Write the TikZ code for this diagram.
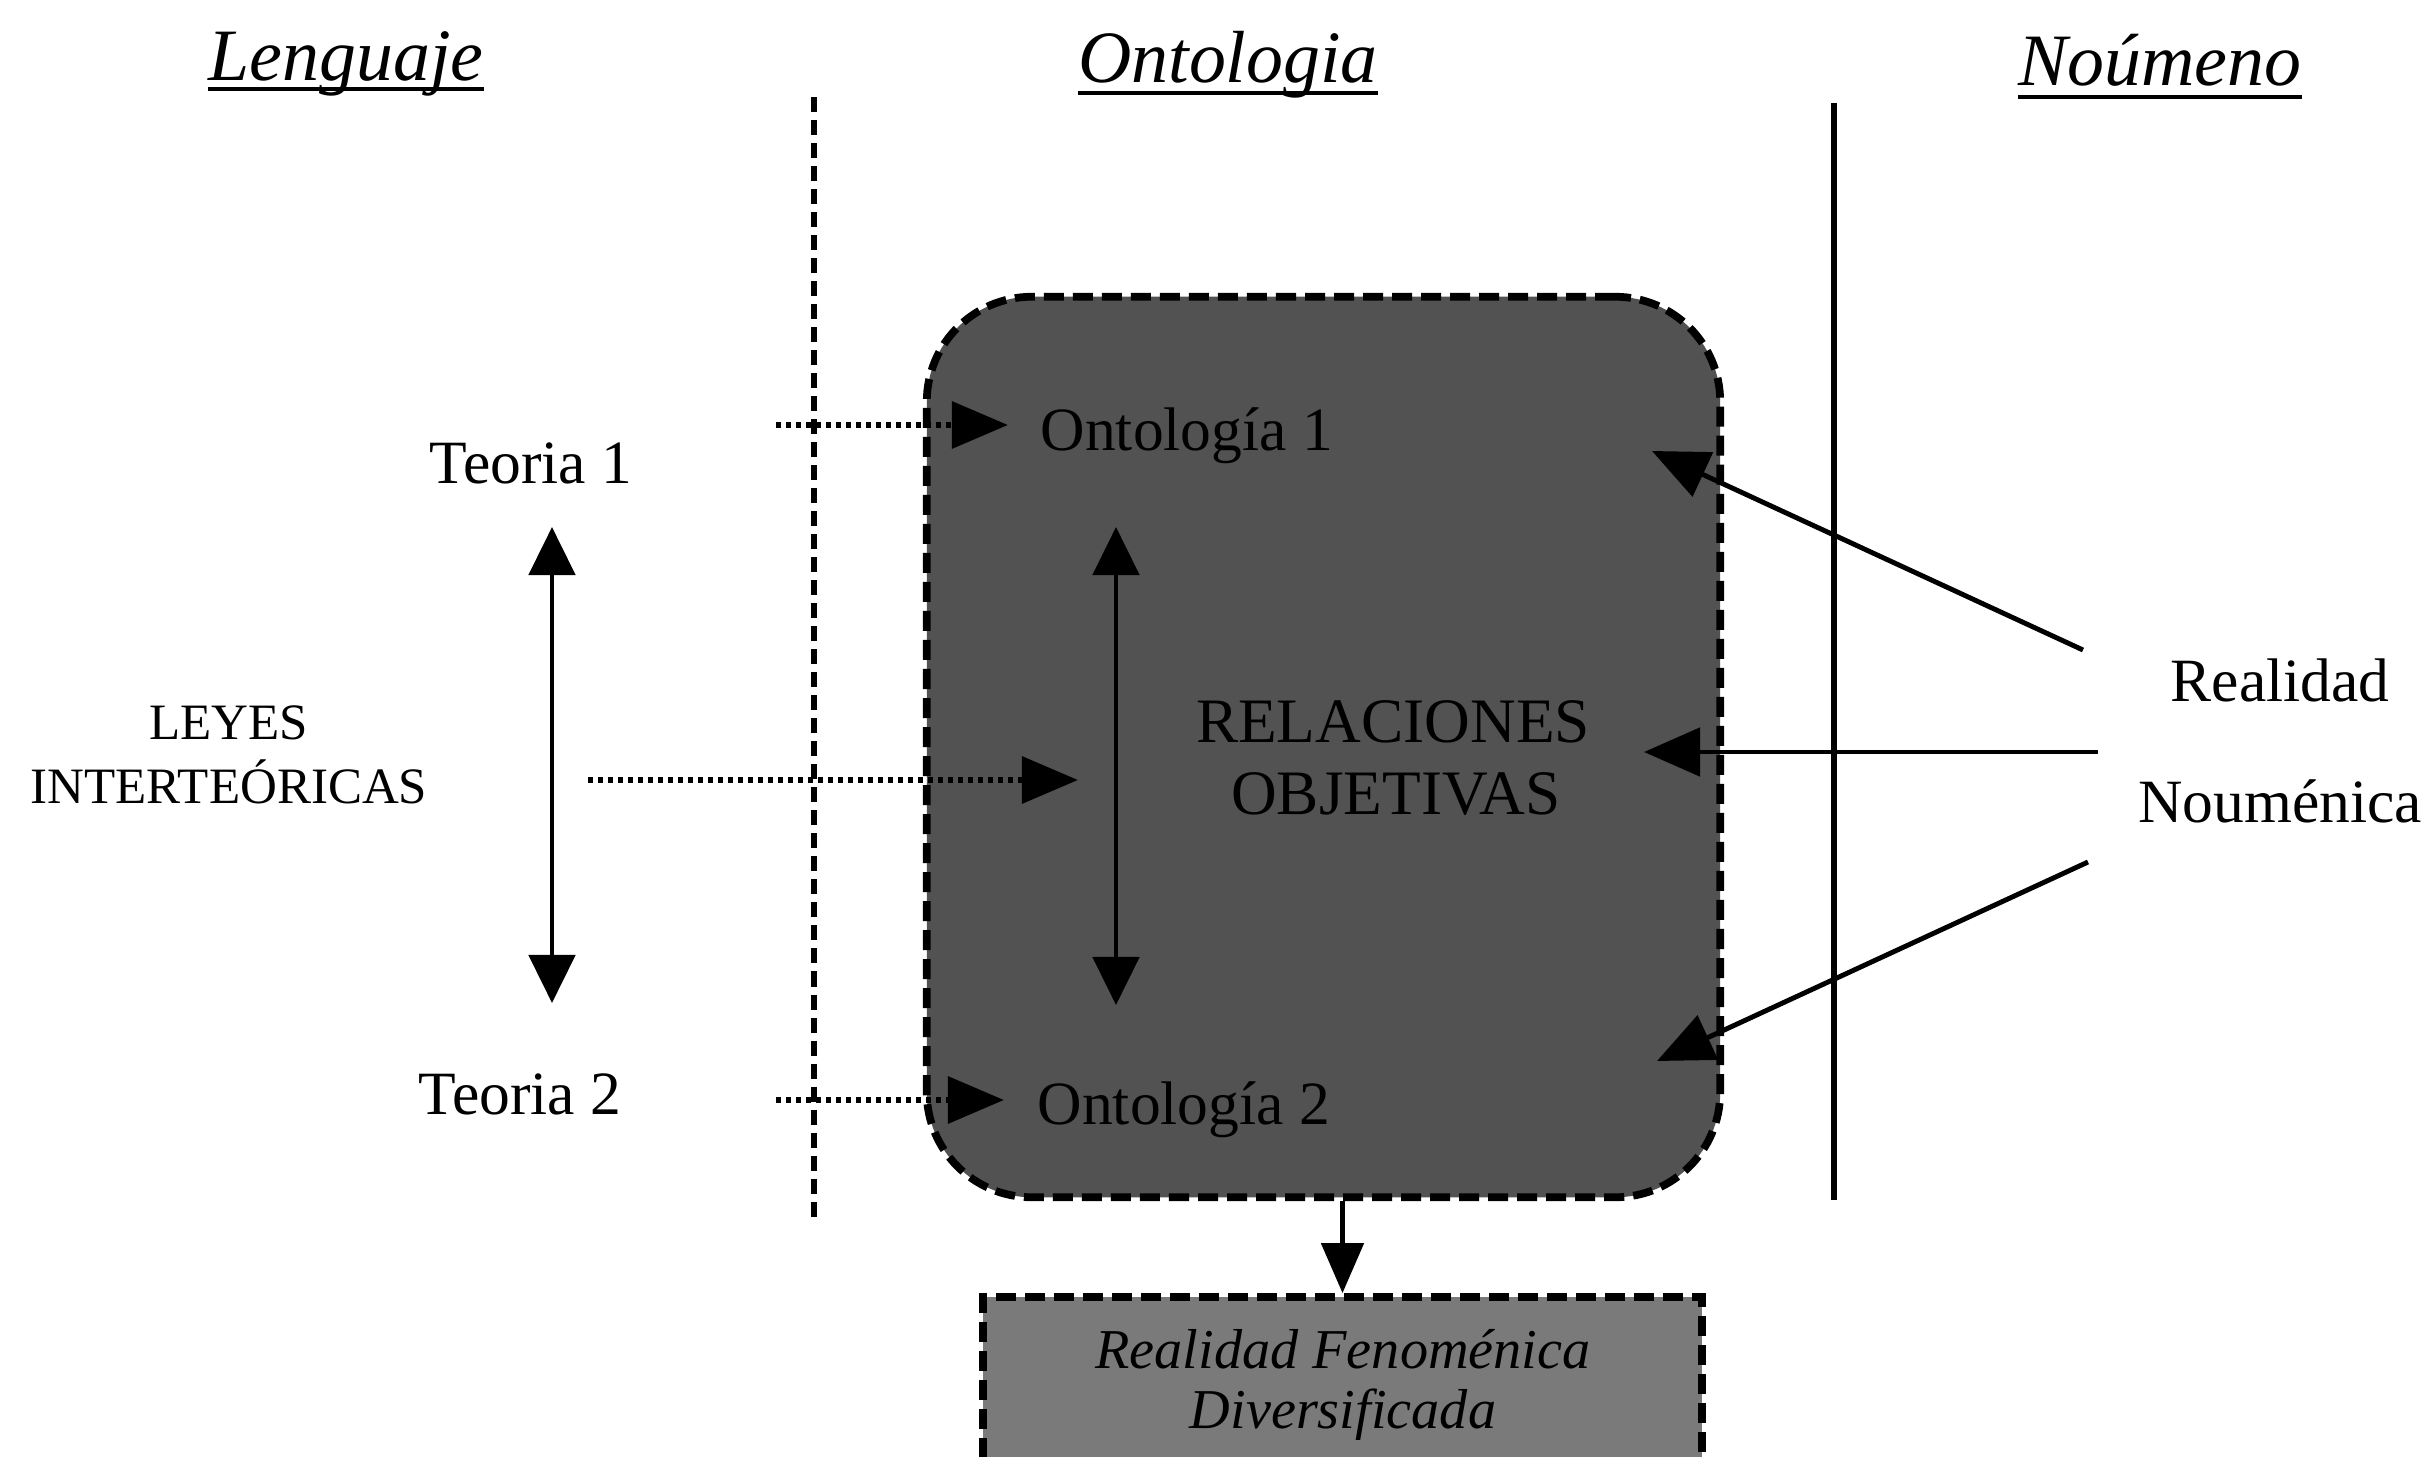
\documentclass[tikz,border=0pt]{standalone}
\usepackage{fontspec}
\setmainfont{Liberation Serif}
\usetikzlibrary{arrows.meta}
\definecolor{boxdark}{RGB}{82,82,82}
\definecolor{boxlight}{RGB}{122,122,122}
\begin{document}
\begin{tikzpicture}[x=0.01cm,y=-0.01cm,
  title/.style={font=\fontsize{21}{25}\selectfont\itshape, inner sep=0pt, anchor=base},
  lbl/.style={font=\fontsize{17.5}{21}\selectfont, inner sep=0pt, anchor=base},
  lblsmall/.style={font=\fontsize{14.5}{18}\selectfont, inner sep=0pt, anchor=base},
  lblbox/.style={font=\fontsize{18}{21}\selectfont, inner sep=0pt, anchor=base},
  lblit/.style={font=\fontsize{16}{19}\selectfont\itshape, inner sep=0pt, anchor=base},
  uline/.style={line width=1.2pt},
  arr/.style={line width=1.4pt, -{Triangle[length=0.56cm,width=0.48cm]}},
  downarr/.style={line width=1.4pt, -{Triangle[length=0.5cm,width=0.42cm]}},
  dblarr/.style={line width=1.4pt, {Triangle[length=0.48cm,width=0.46cm]}-{Triangle[length=0.48cm,width=0.46cm]}},
  dotarr/.style={line width=1.8pt, dash pattern=on 0.045cm off 0.055cm, -{Triangle[length=0.56cm,width=0.46cm]}},
  dashline/.style={line width=1.9pt, dash pattern=on 0.15cm off 0.08cm},
  solidline/.style={line width=1.5pt},
  bigbox/.style={draw, fill=boxdark, line width=2.2pt, dash pattern=on 0.2cm off 0.09cm, rounded corners=1.05cm, inner sep=0pt},
  smallbox/.style={draw, fill=boxlight, line width=2.2pt, dash pattern=on 0.2cm off 0.09cm, inner sep=0pt}
]
\useasboundingbox (0,0) rectangle (2426,1457);
\begin{scope}
\clip (0,0) rectangle (2426,1457);
\fill[white] (0,0) rectangle (2426,1457);

% titles
\node[title] (lang) at (346,80) {Lenguaje};
\node[title] (onto) at (1228,82) {Ontologia};
\node[title] (noum) at (2160,85) {Noúmeno};
\draw[uline] ([yshift=-0.09cm]lang.base west) -- ([yshift=-0.09cm]lang.base east);
\draw[uline] ([yshift=-0.11cm]onto.base west) -- ([yshift=-0.11cm]onto.base east);
\draw[uline] ([yshift=-0.12cm]noum.base west) -- ([yshift=-0.12cm]noum.base east);

% separators
\coordinate (dl1) at (814,97);
\coordinate (dl2) at (814,1223);
\coordinate (sl1) at (1834,103);
\coordinate (sl2) at (1834,1200);
\draw[dashline] (dl1) -- (dl2);
\draw[solidline] (sl1) -- (sl2);

% boxes
\node[bigbox, minimum width=7.93cm, minimum height=9.0cm] (obox) at (1323.5,747) {};
\node[smallbox, minimum width=7.19cm, minimum height=1.9cm] (rbox) at (1342.5,1392) {};

% left texts
\node[lbl] (teo1) at (531,483) {Teoria 1};
\node[lbl] (teo2) at (520,1114) {Teoria 2};
\node[lblsmall] (leyes) at (229,739) {LEYES};
\node[lblsmall] (inter) at (229,803) {INTERTEÓRICAS};

% box texts
\node[lbl, anchor=base west] (ont1) at (1040,450) {Ontología 1};
\node[lbl, anchor=base west] (ont2) at (1037,1124) {Ontología 2};
\node[lblbox] (rel1) at (1393,742) {RELACIONES};
\node[lblbox] (rel2) at (1396,814) {OBJETIVAS};
\node[lblit] (rf1) at (1343,1368) {Realidad Fenoménica};
\node[lblit] (rf2) at (1343,1428) {Diversificada};

% right texts
\node[lbl] (real1) at (2280,701) {Realidad};
\node[lbl] (real2) at (2280,822) {Nouménica};

% arrow end points
\coordinate (la1) at (552,527);
\coordinate (la2) at (552,1003);
\coordinate (ia1) at (1116,527);
\coordinate (ia2) at (1116,1005);
\coordinate (d1s) at (776,425);
\coordinate (d1e) at (1008,425);
\coordinate (d2s) at (588,780);
\coordinate (d2e) at (1078,780);
\coordinate (d3s) at (776,1100);
\coordinate (d3e) at (1004,1100);
\coordinate (r1s) at (2083,650);
\coordinate (r1e) at (1652,451);
\coordinate (r2s) at (2098,752);
\coordinate (r2e) at (1644,752);
\coordinate (r3s) at (2088,862);
\coordinate (r3e) at (1657,1061);

% connectors
\draw[dblarr] (la1) -- (la2);
\draw[dblarr] (ia1) -- (ia2);
\draw[dotarr] (d1s) -- (d1e);
\draw[dotarr] (d2s) -- (d2e);
\draw[dotarr] (d3s) -- (d3e);
\draw[arr] (r1s) -- (r1e);
\draw[arr] (r2s) -- (r2e);
\draw[arr] (r3s) -- (r3e);
\draw[downarr] (obox.south -| rbox.north) -- (rbox.north);
\end{scope}
\end{tikzpicture}
\end{document}
